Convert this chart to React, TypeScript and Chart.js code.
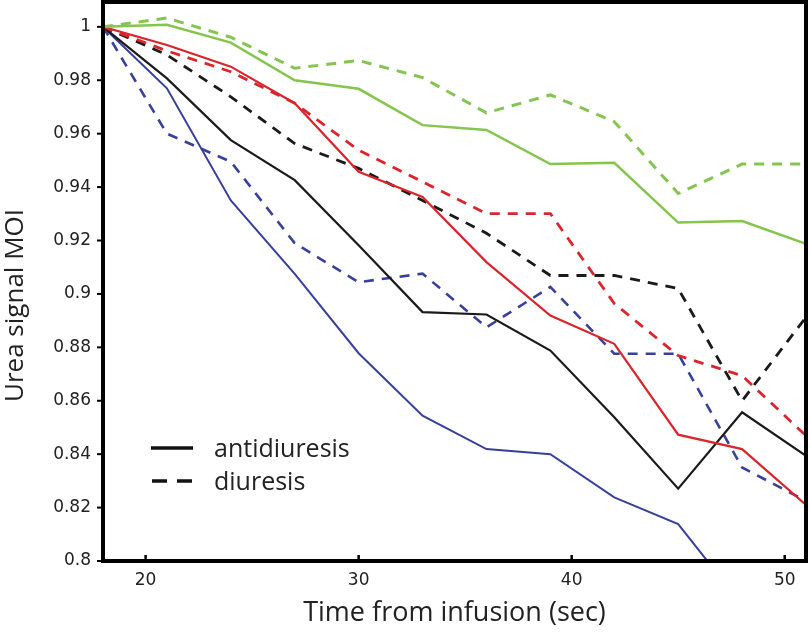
import React, { useEffect, useRef } from 'react';
import { Chart, registerables } from 'chart.js';

Chart.register(...registerables);

// Time points (sec)
const times = [18, 21, 24, 27, 30, 33, 36, 39, 42, 45, 48, 51];

// Series values (Urea signal MOI)
const greenAntidiuresis = [1, 1.0008, 0.9941, 0.98, 0.9768, 0.9632, 0.9614, 0.9486, 0.9491, 0.9267, 0.9273, 0.9188];
const greenDiuresis = [1, 1.0033, 0.9961, 0.9845, 0.9874, 0.981, 0.9678, 0.9745, 0.9645, 0.9376, 0.9486, 0.9486];
const redAntidiuresis = [1, 0.9932, 0.9851, 0.9714, 0.9457, 0.9363, 0.9119, 0.8919, 0.8813, 0.8473, 0.8419, 0.821];
const redDiuresis = [1, 0.991, 0.9832, 0.9714, 0.9538, 0.942, 0.9301, 0.9301, 0.8964, 0.8769, 0.8694, 0.8469];
const blackAntidiuresis = [1, 0.9807, 0.9576, 0.9426, 0.9182, 0.8932, 0.8923, 0.8788, 0.8538, 0.8271, 0.8557, 0.8394];
const blackDiuresis = [1, 0.9895, 0.9738, 0.9563, 0.947, 0.935, 0.9227, 0.9069, 0.9069, 0.902, 0.86, 0.8913];
const blueAntidiuresis = [1, 0.977, 0.935, 0.9075, 0.8778, 0.8544, 0.8419, 0.84, 0.8238, 0.8138, 0.7836, 0.77];
const blueDiuresis = [1, 0.96, 0.9495, 0.919, 0.9044, 0.9076, 0.8875, 0.9026, 0.8776, 0.8776, 0.835, 0.8225];

// Legend labels and axis titles
const legendLabels = ['antidiuresis', 'diuresis'];
const xTitle = 'Time from infusion (sec)';
const yTitle = 'Urea signal MOI';

const GREEN = '#84c44f';
const RED = '#d9252c';
const BLACK = '#1a1a1a';
const BLUE = '#37409a';
const DASH = [10, 8];

export default function App() {
  const ref = useRef<HTMLCanvasElement>(null);

  useEffect(() => {
    const canvas = ref.current!;
    const mk = (label: string, vals: number[], color: string, dashed: boolean, width: number) => ({
      label,
      data: times.map((t, i) => ({ x: t, y: vals[i] })),
      borderColor: color,
      backgroundColor: color,
      borderWidth: width,
      borderDash: dashed ? DASH : [],
      pointRadius: 0,
      fill: false,
      tension: 0,
    });

    const decor = {
      id: 'decor',
      afterDatasetsDraw(chart: any) {
        const { ctx, chartArea: a, scales } = chart;
        ctx.save();
        ctx.strokeStyle = '#000';
        ctx.setLineDash([]);
        // x ticks (inside)
        ctx.lineWidth = 2.5;
        scales.x.ticks.forEach((t: any) => {
          const px = scales.x.getPixelForValue(t.value);
          ctx.beginPath();
          ctx.moveTo(px, a.bottom);
          ctx.lineTo(px, a.bottom - 6);
          ctx.stroke();
        });
        // y ticks (outside)
        ctx.lineWidth = 2;
        scales.y.ticks.forEach((t: any) => {
          const py = scales.y.getPixelForValue(t.value);
          ctx.beginPath();
          ctx.moveTo(a.left - 6, py);
          ctx.lineTo(a.left, py);
          ctx.stroke();
        });
        // frame
        ctx.lineWidth = 4;
        ctx.strokeRect(a.left, a.top, a.right - a.left, a.bottom - a.top);
        ctx.restore();
      },
      afterDraw(chart: any) {
        const { ctx, chartArea: a } = chart;
        ctx.save();
        // legend
        ctx.strokeStyle = '#111';
        ctx.lineWidth = 3.5;
        ctx.setLineDash([]);
        ctx.beginPath();
        ctx.moveTo(151, 448);
        ctx.lineTo(193, 448);
        ctx.stroke();
        ctx.setLineDash([15, 10]);
        ctx.beginPath();
        ctx.moveTo(152, 481);
        ctx.lineTo(193, 481);
        ctx.stroke();
        ctx.setLineDash([]);
        ctx.fillStyle = '#222';
        ctx.font = '25px "Open Sans"';
        ctx.textAlign = 'left';
        ctx.textBaseline = 'alphabetic';
        ctx.fillText(legendLabels[0], 214, 457);
        ctx.fillText(legendLabels[1], 214, 490);
        // y title
        ctx.font = '26px "Open Sans"';
        ctx.textAlign = 'center';
        ctx.textBaseline = 'middle';
        ctx.translate(16, (a.top + a.bottom) / 2 + 24);
        ctx.rotate(-Math.PI / 2);
        ctx.fillText(yTitle, 0, 0);
        ctx.restore();
      },
    };

    const chart = new Chart(canvas, {
      type: 'line',
      data: {
        datasets: [
          mk('green antidiuresis', greenAntidiuresis, GREEN, false, 2.5),
          mk('green diuresis', greenDiuresis, GREEN, true, 3),
          mk('red antidiuresis', redAntidiuresis, RED, false, 2.2),
          mk('red diuresis', redDiuresis, RED, true, 2.8),
          mk('black antidiuresis', blackAntidiuresis, BLACK, false, 2.2),
          mk('black diuresis', blackDiuresis, BLACK, true, 2.8),
          mk('blue antidiuresis', blueAntidiuresis, BLUE, false, 2),
          mk('blue diuresis', blueDiuresis, BLUE, true, 2.6),
        ],
      },
      options: {
        animation: false,
        responsive: false,
        maintainAspectRatio: false,
        layout: { padding: { top: 2, right: 4, left: 0, bottom: 0 } },
        plugins: { legend: { display: false }, tooltip: { enabled: false } },
        scales: {
          x: {
            type: 'linear',
            min: 18,
            max: 51,
            afterFit: (s: any) => { s.height = 73; s.paddingLeft = 0; s.paddingRight = 0; },
            grid: { display: false, drawTicks: false },
            border: { display: false },
            ticks: {
              stepSize: 10,
              includeBounds: false,
              padding: 9,
              color: '#222',
              font: { family: '"DejaVu Sans"', size: 17 },
              callback: (v: any) => String(v),
            },
            title: {
              display: true,
              text: xTitle,
              color: '#222',
              font: { family: '"Open Sans"', size: 27 },
              padding: { top: 0, bottom: 4 },
            },
          },
          y: {
            type: 'linear',
            min: 0.8,
            max: 1.0093,
            afterFit: (s: any) => { s.width = 103; s.paddingTop = 0; s.paddingBottom = 0; },
            grid: { display: false, drawTicks: false },
            border: { display: false },
            ticks: {
              stepSize: 0.02,
              includeBounds: false,
              padding: 12,
              color: '#222',
              font: { family: '"DejaVu Sans"', size: 17 },
              callback: (v: any) => String(Number(Number(v).toFixed(2))),
            },
          },
        },
      },
      plugins: [decor],
    } as any);

    return () => chart.destroy();
  }, []);

  return (
    <div style={{ position: 'fixed', left: 0, top: 0, width: 810, height: 634, background: '#fff' }}>
      <canvas ref={ref} width={810} height={634} style={{ width: 810, height: 634, display: 'block' }} />
    </div>
  );
}
